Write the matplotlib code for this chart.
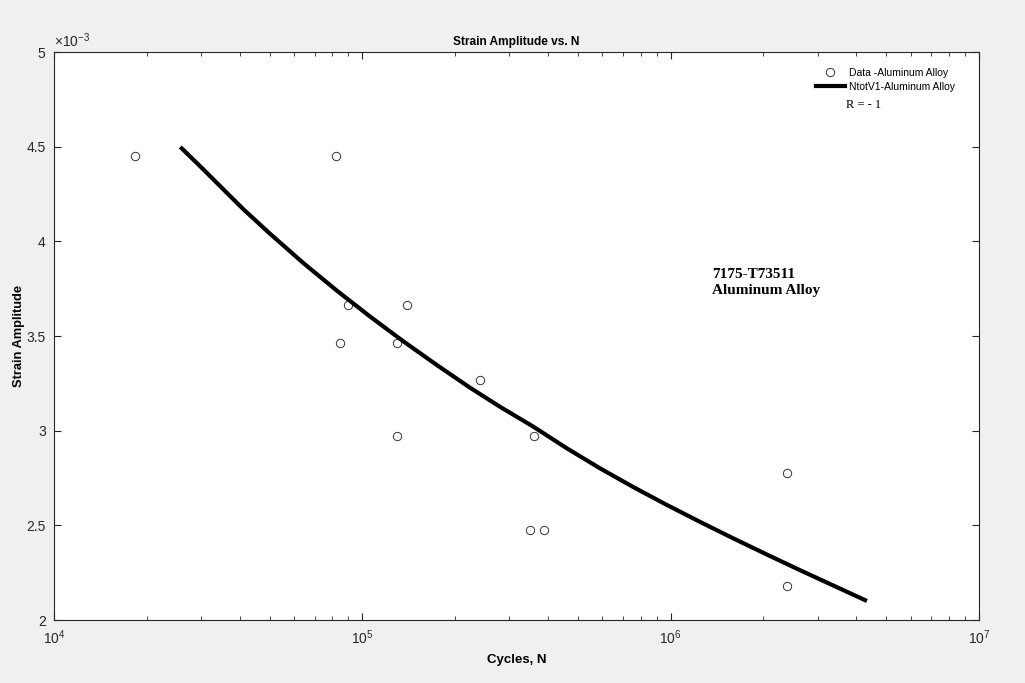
import matplotlib
matplotlib.use("Agg")
import matplotlib.pyplot as plt
from matplotlib.ticker import FuncFormatter, LogLocator, NullFormatter

plt.rcParams['font.family'] = ['Liberation Sans', 'DejaVu Sans']
plt.rcParams['mathtext.default'] = 'regular'

# test data (cycles, strain amplitude)
data_n = [1.83e4, 8.2e4, 9.0e4, 8.48e4, 1.40e5, 1.30e5, 1.30e5,
          2.41e5, 3.60e5, 3.50e5, 3.88e5, 2.39e6, 2.39e6]
data_eps = [4.45e-3, 4.45e-3, 3.665e-3, 3.465e-3, 3.665e-3, 3.465e-3, 2.97e-3,
            3.265e-3, 2.97e-3, 2.475e-3, 2.475e-3, 2.775e-3, 2.18e-3]

# fitted curve
fit_n = [2.596e4, 3.05e4, 3.54e4, 4.11e4, 5.02e4, 6.44e4, 8.26e4, 1.059e5,
         1.358e5, 1.743e5, 2.235e5, 2.797e5, 3.587e5, 4.603e5, 5.902e5,
         7.568e5, 9.71e5, 1.246e6, 1.597e6, 2.05e6, 2.628e6, 3.37e6, 4.27e6]
fit_eps = [4.491e-3, 4.380e-3, 4.275e-3, 4.170e-3, 4.040e-3, 3.885e-3, 3.740e-3, 3.603e-3,
           3.472e-3, 3.347e-3, 3.227e-3, 3.126e-3, 3.021e-3, 2.907e-3, 2.801e-3,
           2.702e-3, 2.608e-3, 2.518e-3, 2.431e-3, 2.346e-3, 2.263e-3, 2.182e-3, 2.105e-3]

fig = plt.figure(figsize=(10.25, 6.83), dpi=100, facecolor='#f0f0f0')
ax = fig.add_axes([54/1025, 1-620/683, 925/1025, 568/683])
ax.set_facecolor('white')

ax.plot(data_n, data_eps, 'o', markersize=6, markerfacecolor='none',
        markeredgecolor='#333333', markeredgewidth=0.7, label='Data -Aluminum Alloy')
ax.plot(fit_n, fit_eps, '-', color='black', linewidth=3, solid_joinstyle='round',
        label='NtotV1-Aluminum Alloy')

ax.set_xscale('log')
ax.set_xlim(1e4, 1e7)
ax.set_ylim(2e-3, 5e-3)
ax.set_yticks([2e-3, 2.5e-3, 3e-3, 3.5e-3, 4e-3, 4.5e-3, 5e-3])
ax.yaxis.set_major_formatter(FuncFormatter(lambda v, p: '%g' % round(v*1e3, 3)))
ax.xaxis.set_minor_locator(LogLocator(base=10, subs=range(2, 10)))
ax.xaxis.set_minor_formatter(NullFormatter())

for s in ax.spines.values():
    s.set_color('#262626')
    s.set_linewidth(0.8)
ax.tick_params(which='both', direction='in', top=True, right=True,
               colors='#262626', labelsize=10)
ax.tick_params(which='major', length=5, pad=6)
ax.tick_params(which='minor', length=3)

ax.text(0.0, 1.003, r'$\times10^{-3}$', transform=ax.transAxes,
        ha='left', va='bottom', fontsize=10, color='#262626')

ax.set_title('Strain Amplitude vs. N', fontsize=8.6, fontweight='bold', pad=5)
ax.set_xlabel('Cycles, N', fontsize=9.5, fontweight='bold', labelpad=5)
ax.set_ylabel('Strain Amplitude', fontsize=9.3, fontweight='bold', labelpad=1)

ax.legend(loc='upper right', bbox_to_anchor=(0.985, 0.99), frameon=False,
          fontsize=7.5, handlelength=2.7, handletextpad=0.4, labelspacing=0.35,
          borderaxespad=0.6)

ax.text(0.856, 0.907, 'R = - 1', transform=ax.transAxes, ha='left', va='center',
        fontsize=9, family=['Liberation Serif', 'DejaVu Serif'])
ax.text(0.711, 0.620, '7175-T73511\nAluminum Alloy', transform=ax.transAxes,
        ha='left', va='top', fontsize=11, fontweight='bold',
        family=['Liberation Serif', 'DejaVu Serif'], linespacing=1.32)

fig.savefig('out.png', dpi=100, facecolor=fig.get_facecolor())
